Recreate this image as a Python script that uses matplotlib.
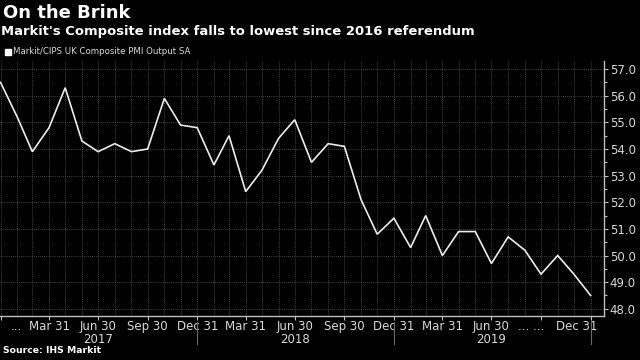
import pandas as pd
import matplotlib.pyplot as plt
import matplotlib.transforms as mtransforms
from matplotlib.ticker import MultipleLocator, FormatStrFormatter

# monthly Markit/CIPS UK composite PMI, Dec 2016 - Dec 2019 (month-end)
months = pd.date_range('2016-12-31', '2019-12-31', freq='ME')
pmi = [56.5, 55.2, 53.9, 54.8, 56.3, 54.3, 53.9, 54.2, 53.9, 54.0, 55.9, 54.9,
       54.8, 53.4, 54.5, 52.4, 53.2, 54.4, 55.1, 53.5, 54.2, 54.1, 52.1, 50.8,
       51.4, 50.3, 51.5, 50.0, 50.9, 50.9, 49.7, 50.7, 50.2, 49.3, 50.0, 49.3,
       48.5]

quarter_labels = ['...', 'Mar 31', 'Jun 30', 'Sep 30', 'Dec 31',
                  'Mar 31', 'Jun 30', 'Sep 30', 'Dec 31',
                  'Mar 31', 'Jun 30', '... ...', 'Dec 31']
years = ['2017', '2018', '2019']

fg = '#d9d9d9'
grid_col = '#5c5c5c'

fig = plt.figure(figsize=(6.4, 3.6), dpi=100, facecolor='black')
ax = fig.add_axes([0.0, 0.123, 0.943, 0.708], facecolor='black')

ax.plot(months, pmi, color='#ececec', lw=1.2, solid_joinstyle='miter')

ax.set_xlim(pd.Timestamp('2016-12-30'), pd.Timestamp('2020-01-24'))
ax.set_ylim(47.74, 57.31)

# axes styling
for s in ['top', 'left']:
    ax.spines[s].set_visible(False)
for s in ['bottom', 'right']:
    ax.spines[s].set_color('#bfbfbf')
    ax.spines[s].set_linewidth(1.0)

ax.yaxis.tick_right()
ax.yaxis.set_major_locator(MultipleLocator(1))
ax.yaxis.set_minor_locator(MultipleLocator(0.5))
ax.yaxis.set_major_formatter(FormatStrFormatter('%.1f'))
ax.tick_params(axis='y', which='major', colors='#bfbfbf', labelcolor=fg,
               labelsize=8.5, length=3, width=0.8, pad=1.5)
ax.tick_params(axis='y', which='minor', colors='#bfbfbf', length=2, width=0.8)

ax.set_xticks(months, minor=True)
ax.set_xticks(months[::3])
ax.set_xticklabels(quarter_labels)
ax.tick_params(axis='x', which='major', colors='#bfbfbf', labelcolor=fg,
               labelsize=8.5, length=3, width=0.8, pad=0)
ax.tick_params(axis='x', which='minor', length=0)

ax.grid(True, which='both', axis='x', color=grid_col, lw=0.6, ls=(0, (1, 1.5)))
ax.grid(True, which='major', axis='y', color=grid_col, lw=0.6, ls=(0, (1, 1.5)))

# nudge the squeezed end labels like the original
lbls = ax.get_xticklabels()
lbls[0].set_transform(lbls[0].get_transform() +
                      mtransforms.ScaledTranslation(16 / 100, 0, fig.dpi_scale_trans))
lbls[-2].set_transform(lbls[-2].get_transform() +
                       mtransforms.ScaledTranslation(-10 / 100, 0, fig.dpi_scale_trans))
lbls[-1].set_transform(lbls[-1].get_transform() +
                       mtransforms.ScaledTranslation(-14 / 100, 0, fig.dpi_scale_trans))

# year labels and separators
xt = ax.get_xaxis_transform()
for i, yr in enumerate(years):
    mid = months[6 + 12 * i]
    end = months[12 + 12 * i]
    ax.text(mid, -0.094, yr, transform=xt, ha='center', va='center',
            color=fg, fontsize=8.5)
    ax.plot([end, end], [-0.025, -0.11], transform=xt, clip_on=False,
            color='#6a6a6a', lw=0.8)

# titles, legend, source
fig.text(0.004, 1 - 18 / 360, 'On the Brink', color='white', fontsize=13,
         fontweight='bold', va='baseline')
fig.text(0.002, 1 - 35.5 / 360, "Markit's Composite index falls to lowest since 2016 referendum",
         color='white', fontsize=9.45, fontweight='bold', va='baseline')
fig.patches.append(plt.Rectangle((5 / 640, 1 - 54.5 / 360), 5.5 / 640, 5.5 / 360,
                                 transform=fig.transFigure, color='white'))
fig.text(13 / 640, 1 - 51.8 / 360, 'Markit/CIPS UK Composite PMI Output SA',
         color=fg, fontsize=6.2, va='center')
fig.text(0.005, 1 - 350.5 / 360, 'Source: IHS Markit', color='white',
         fontsize=6.7, fontweight='bold', va='center')

fig.savefig('out.png', dpi=100, facecolor='black')
